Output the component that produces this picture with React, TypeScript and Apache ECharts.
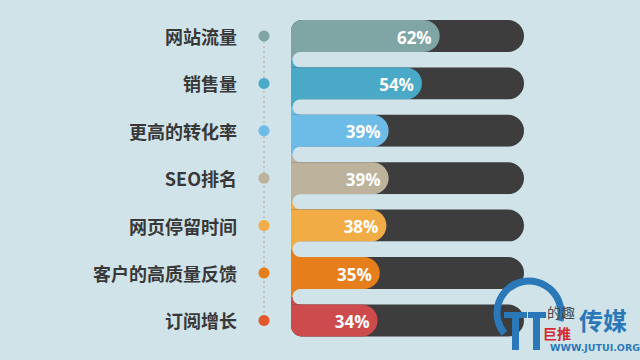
import React, { useEffect, useRef } from "react";
import * as echarts from "echarts";

const categories = ["网站流量", "销售量", "更高的转化率", "SEO排名", "网页停留时间", "客户的高质量反馈", "订阅增长"];
const values = [62, 54, 39, 39, 38, 35, 34];
const barColors = ["#7fa5a5", "#4aa9c6", "#6dbce8", "#bdb29b", "#f2ac45", "#e57e1b", "#cd4b4c"];
const dotColors = ["#7fa5a5", "#4aa9c6", "#6dbce8", "#bdb29b", "#f2ac45", "#e57e1b", "#e3572d"];

const BG = "#cfe3e9";
const DARK = "#3d3d3d";
const X_MIN = -5;
const X_MAX = 100;
const BAR_H = 32;
const WM_BLUE = "#2b78b9";

export default function App() {
  const ref = useRef<HTMLDivElement>(null);
  useEffect(() => {
    if (!ref.current) return;
    const chart = echarts.init(ref.current, null, { renderer: "svg" });
    const n = categories.length;
    const option: any = {
      animation: false,
      backgroundColor: BG,
      grid: [
        { left: 291, right: 116, top: 12.3, bottom: 15.9 },
        { left: 240, width: 48, top: 12.3, bottom: 15.9 },
      ],
      xAxis: [
        { gridIndex: 0, type: "value", min: X_MIN, max: X_MAX, show: false },
        { gridIndex: 1, type: "value", min: 0, max: 1, show: false },
      ],
      yAxis: [
        { gridIndex: 0, type: "category", data: categories, inverse: true, show: false },
        {
          gridIndex: 1,
          type: "category",
          data: categories,
          inverse: true,
          axisLine: { show: false },
          axisTick: { show: false },
          splitLine: { show: false },
          axisLabel: {
            margin: 3,
            fontSize: 18,
            fontWeight: "bold",
            color: "#383838",
            fontFamily: "Noto Sans CJK SC",
          },
        },
      ],
      graphic: [
        {
          type: "group",
          silent: true,
          z: 100,
          children: [
            {
              type: "arc",
              z: 100,
              shape: { cx: 529, cy: 313, r: 32, startAngle: Math.PI * 0.78, endAngle: Math.PI * 2.08 },
              style: { stroke: WM_BLUE, lineWidth: 7, fill: "none" },
            },
            { type: "rect", z: 100, shape: { x: 504, y: 312, width: 23, height: 6 }, style: { fill: WM_BLUE } },
            { type: "rect", z: 100, shape: { x: 512, y: 312, width: 7, height: 38 }, style: { fill: WM_BLUE } },
            { type: "rect", z: 100, shape: { x: 528, y: 312, width: 18, height: 6 }, style: { fill: WM_BLUE } },
            { type: "rect", z: 100, shape: { x: 533, y: 312, width: 7, height: 38 }, style: { fill: WM_BLUE } },
            {
              type: "text",
              z: 100,
              x: 561,
              y: 312,
              style: { text: "的趣", fill: "#4a4a4a", fontSize: 14, fontFamily: "Noto Sans CJK SC", align: "center", verticalAlign: "middle" },
            },
            {
              type: "text",
              z: 101,
              x: 557,
              y: 333,
              style: { text: "巨推", fill: "#d8282e", fontSize: 14, fontWeight: "bold", fontFamily: "Noto Sans CJK SC", align: "center", verticalAlign: "middle" },
            },
            {
              type: "text",
              z: 100,
              x: 603,
              y: 319,
              style: { text: "传媒", fill: WM_BLUE, fontSize: 24, fontWeight: "bold", fontFamily: "Noto Sans CJK SC", align: "center", verticalAlign: "middle" },
            },
            {
              type: "text",
              z: 100,
              x: 595,
              y: 347,
              style: { text: "WWW.JUTUI.ORG", fill: WM_BLUE, fontSize: 9.5, fontWeight: "bold", fontFamily: "DejaVu Sans", align: "center", verticalAlign: "middle" },
            },
          ],
        },
      ],
      series: [
        {
          type: "custom",
          xAxisIndex: 0,
          yAxisIndex: 0,
          data: values.map((v, i) => [v, i]),
          encode: { x: 0, y: 1 },
          renderItem: (params: any, api: any) => {
            const v = api.value(0);
            const idx = api.value(1);
            const [xs, yc] = api.coord([X_MIN, idx]);
            const [xe] = api.coord([v, idx]);
            const [xm] = api.coord([X_MAX, idx]);
            const band = api.size([0, 1])[1];
            const h = BAR_H;
            const lr = idx === 0 ? [11, 0, 0, 0] : idx === n - 1 ? [0, 0, 0, 11] : [0, 0, 0, 0];
            const children: any[] = [
              {
                type: "rect",
                shape: { x: xs, y: yc - h / 2, width: xm - xs, height: h, r: [lr[0], h / 2, h / 2, lr[3]] },
                style: { fill: DARK },
              },
              {
                type: "rect",
                shape: { x: xs, y: yc - h / 2, width: xe - xs, height: h, r: [lr[0], h / 2, h / 2, lr[3]] },
                style: { fill: barColors[idx] },
              },
              {
                type: "text",
                x: xe - 8,
                y: yc + 1,
                style: {
                  text: v + "%",
                  fill: "#ffffff",
                  fontSize: 17,
                  fontWeight: "bold",
                  fontFamily: "Open Sans",
                  align: "right",
                  verticalAlign: "middle",
                },
              },
            ];
            if (idx < n - 1) {
              const y1 = yc + h / 2;
              const gap = band - h;
              children.push(
                {
                  type: "rect",
                  shape: { x: xs, y: y1 - 0.5, width: 10, height: gap / 2 + 0.5 },
                  style: { fill: barColors[idx] },
                },
                {
                  type: "rect",
                  shape: { x: xs, y: y1 + gap / 2, width: 10, height: gap / 2 + 0.5 },
                  style: { fill: barColors[idx + 1] },
                },
                {
                  type: "rect",
                  shape: { x: xs + 1.5, y: y1, width: xm - xs, height: gap, r: gap / 2 },
                  style: { fill: BG },
                }
              );
            }
            return { type: "group", children };
          },
        },
        {
          type: "line",
          xAxisIndex: 1,
          yAxisIndex: 1,
          data: categories.map((c) => [0.5, c]),
          symbol: "none",
          lineStyle: { color: "#bfae98", width: 1.2, type: [2, 3] },
          z: 1,
        },
        {
          type: "scatter",
          xAxisIndex: 1,
          yAxisIndex: 1,
          symbolSize: 11,
          data: categories.map((c, i) => ({ value: [0.5, c], itemStyle: { color: dotColors[i], opacity: 1 } })),
          z: 2,
        },
      ],
    };
    chart.setOption(option);
    return () => chart.dispose();
  }, []);
  return <div ref={ref} style={{ width: 640, height: 360, position: "fixed", left: 0, top: 0 }} />;
}
